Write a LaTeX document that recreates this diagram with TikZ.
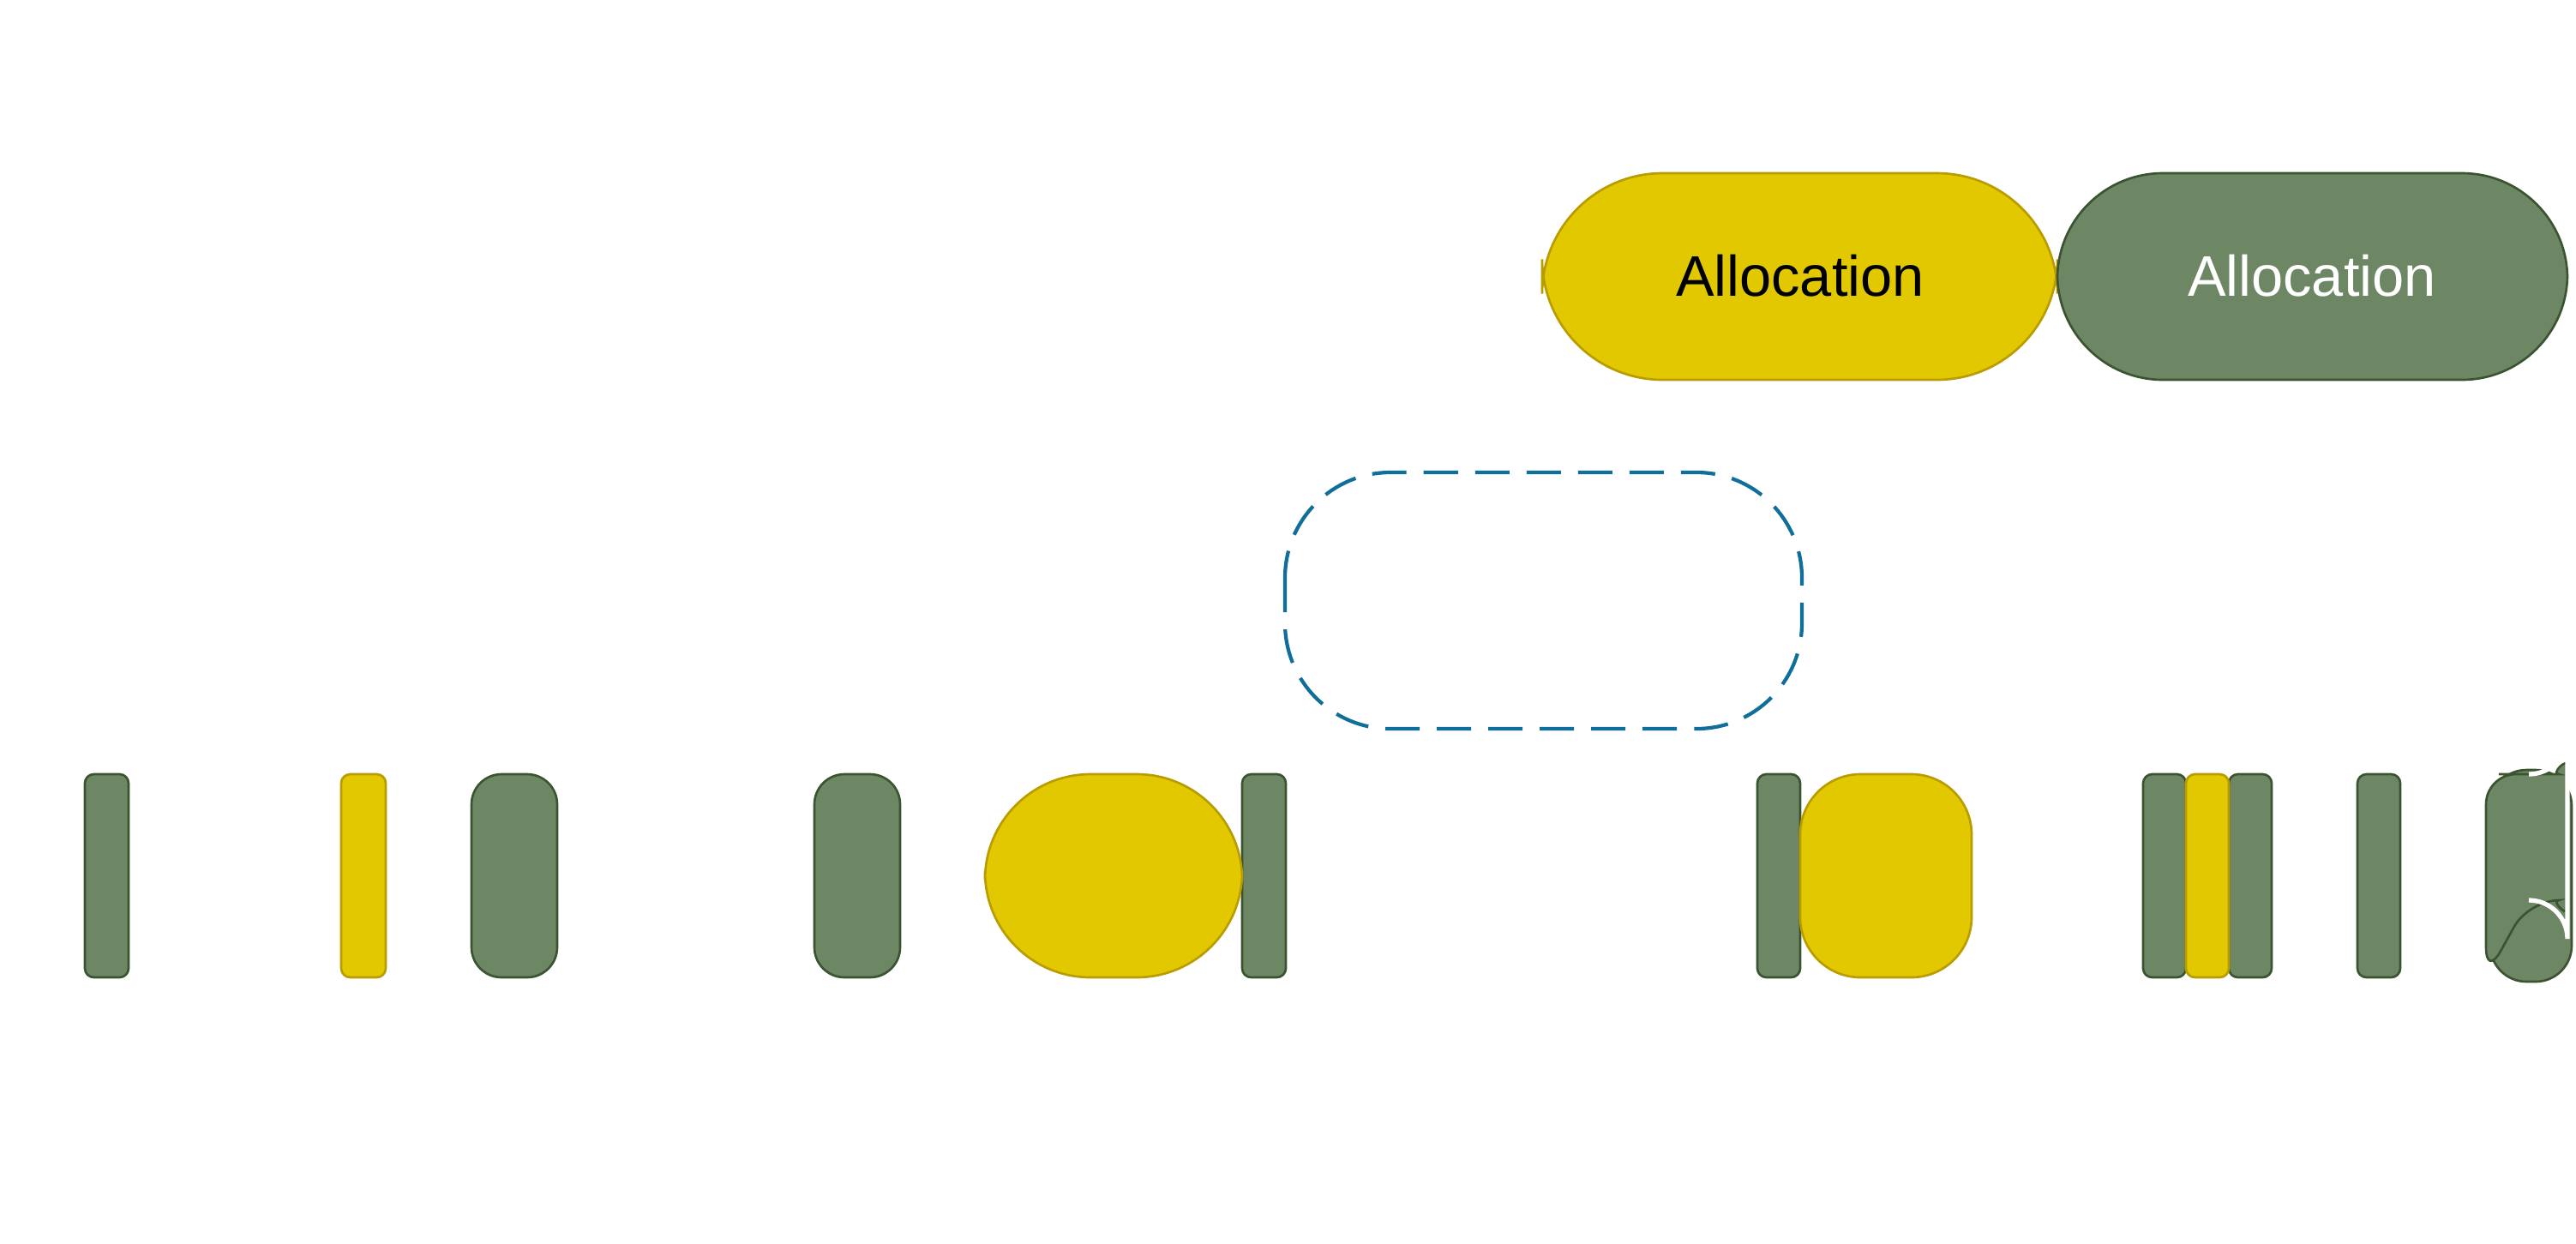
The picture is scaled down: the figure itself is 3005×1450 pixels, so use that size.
\documentclass[tikz,border=0pt]{standalone}
\usepackage{fontspec}
\setmainfont{Liberation Sans}
\definecolor{yfill}{RGB}{225,200,0}
\definecolor{ydraw}{RGB}{184,156,0}
\definecolor{gfill}{RGB}{109,135,100}
\definecolor{gdraw}{RGB}{58,84,49}
\definecolor{dblue}{RGB}{16,110,155}
\begin{document}
\begin{tikzpicture}[x=0.01cm,y=-0.01cm,
  yel/.style={fill=yfill,draw=ydraw,line width=0.75pt},
  grn/.style={fill=gfill,draw=gdraw,line width=0.75pt}]
\useasboundingbox (0,0) rectangle (3005,1450);
% top
\draw[yel,rounded corners=40] (1799,202) rectangle (2400,443);
\node[font=\fontsize{19}{22}\selectfont] (t1) at (2100,322) {Allocation};
\draw[grn,rounded corners=35] (2400,202) rectangle (2995,443);
\node[font=\fontsize{19}{22}\selectfont,text=white] (t2) at (2697,322) {Allocation};
% dashed
\draw[dblue,line width=1.2pt,dash pattern=on 0.4cm off 0.2cm,rounded corners=35] (1499,551) rectangle (2102,850);
% bottom
\foreach \a/\b in {99/150,1449/1500,2050/2100,2500/2550,2600/2650,2750/2800}
  \draw[grn,rounded corners=3] (\a,903) rectangle (\b,1140);
\foreach \a/\b in {398/450,2550/2600}
  \draw[yel,rounded corners=3] (\a,903) rectangle (\b,1140);
\draw[grn,rounded corners=10] (550,903) rectangle (650,1140);
\draw[grn,rounded corners=10] (950,903) rectangle (1050,1140);
\draw[yel,rounded corners=35] (1149,903) rectangle (1449,1140);
\draw[yel,rounded corners=20] (2100,903) rectangle (2300,1140);
\draw[grn,rounded corners=12] (2905,898) rectangle (3000,1145);
\draw[grn,rounded corners=10] (2900,903) -- (2950,903) arc[start angle=90,end angle=0,radius=45] -- (2995,1095) arc[start angle=0,end angle=-90,radius=45] -- (2900,1140) -- cycle;
\draw[white,line width=1.5pt] (2950,903) arc[start angle=90,end angle=0,radius=45] -- (2995,1095) arc[start angle=0,end angle=-90,radius=45];
\end{tikzpicture}
\end{document}
